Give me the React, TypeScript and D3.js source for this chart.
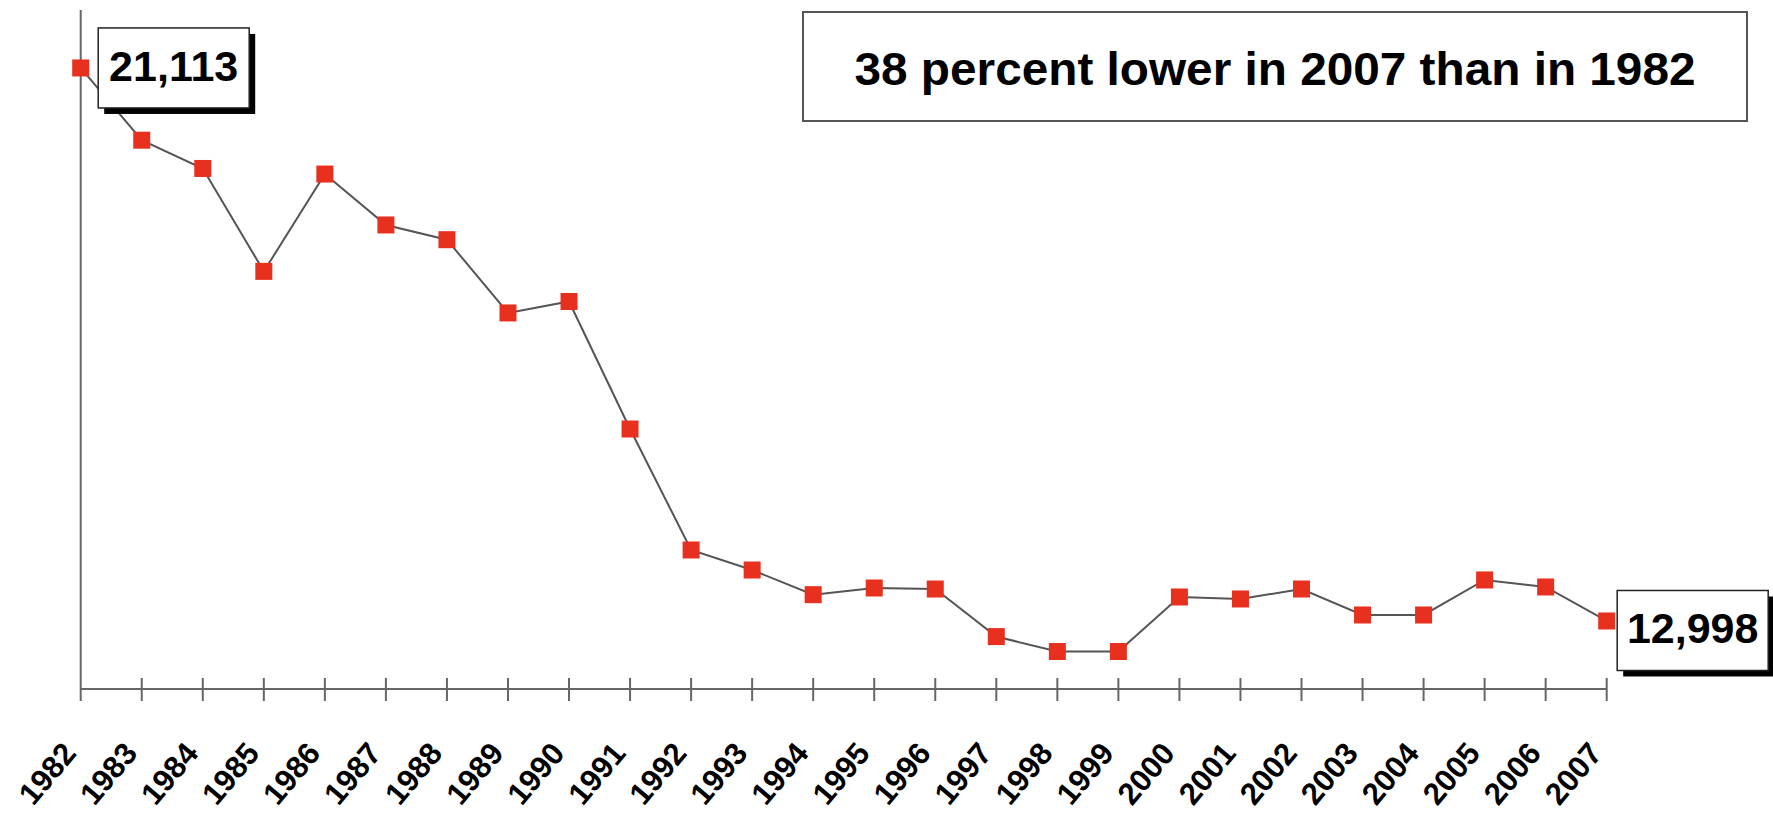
import React from "react";
import * as d3 from "d3";

const years = ["1982","1983","1984","1985","1986","1987","1988","1989","1990","1991","1992","1993","1994","1995","1996","1997","1998","1999","2000","2001","2002","2003","2004","2005","2006","2007"];
const values = [21113, 20053, 19638, 18128, 19556, 18809, 18593, 17518, 17686, 15815, 14040, 13746, 13384, 13482, 13467, 12769, 12550, 12550, 13350, 13321, 13467, 13086, 13086, 13600, 13497, 12998];
const yDomain = [12000, 22000];
const title = "38 percent lower in 2007 than in 1982";
const firstLabel = "21,113";
const lastLabel = "12,998";

const W = 1773;
const H = 817;
const FONT = "'Liberation Sans', Arial, Helvetica, sans-serif";

export default function App() {
  const x = d3.scalePoint<string>().domain(years).range([80.7, 1606.7]);
  const y = d3.scaleLinear().domain(yDomain).range([689, 7.5]);
  const pts: [number, number][] = years.map((yr, i) => [x(yr) as number, y(values[i])]);
  const line = d3.line<[number, number]>().x((d) => d[0]).y((d) => d[1]);
  const axisY = y(yDomain[0]);
  const x0 = x(years[0]) as number;
  const xN = x(years[years.length - 1]) as number;
  const ms = 17;

  const first = pts[0];
  const last = pts[pts.length - 1];
  const boxW = 151;
  const boxH = 80;
  const b1x = first[0] + 17.5;
  const b1y = first[1] - 40;
  const b2x = last[0] + 10.5;
  const b2y = last[1] - 30.5;

  const LabelBox = ({ bx, by, text }: { bx: number; by: number; text: string }) => (
    <g>
      <rect x={bx + 6} y={by + 6} width={boxW} height={boxH} fill="#000" />
      <rect x={bx} y={by} width={boxW} height={boxH} fill="#fff" stroke="#222" strokeWidth={1.5} />
      <text
        x={bx + boxW / 2}
        y={by + 53}
        textAnchor="middle"
        fontFamily={FONT}
        fontWeight="bold"
        fontSize={43}
        fill="#000"
      >
        {text}
      </text>
    </g>
  );

  return (
    <svg
      width={W}
      height={H}
      style={{ position: "absolute", left: 0, top: 0, background: "#fff" }}
    >
      <rect x={0} y={0} width={W} height={H} fill="#fff" />
      {/* y axis */}
      <line x1={x0} x2={x0} y1={10} y2={axisY} stroke="#666" strokeWidth={2} />
      {/* x axis */}
      <line x1={x0} x2={xN} y1={axisY} y2={axisY} stroke="#666" strokeWidth={2} />
      {years.map((yr) => (
        <line
          key={"t" + yr}
          x1={x(yr)}
          x2={x(yr)}
          y1={yr === years[0] ? axisY : axisY - 11}
          y2={axisY + 12}
          stroke="#666"
          strokeWidth={2}
        />
      ))}
      {years.map((yr) => (
        <text
          key={"l" + yr}
          transform={`translate(${(x(yr) as number) - 3},754) rotate(-50)`}
          textAnchor="end"
          fontFamily={FONT}
          fontWeight="bold"
          fontSize={31}
          fill="#000"
        >
          {yr}
        </text>
      ))}
      {/* line */}
      <path d={line(pts) || ""} fill="none" stroke="#555" strokeWidth={2} />
      {/* label boxes */}
      <LabelBox bx={b1x} by={b1y} text={firstLabel} />
      <LabelBox bx={b2x} by={b2y} text={lastLabel} />
      {/* markers */}
      {pts.map((p, i) => (
        <rect
          key={"m" + i}
          x={p[0] - ms / 2}
          y={p[1] - ms / 2}
          width={ms}
          height={ms}
          fill="#e8301f"
        />
      ))}
      {/* title box */}
      <rect x={803} y={12} width={944} height={109} fill="#fff" stroke="#555" strokeWidth={2} />
      <text
        x={1275}
        y={85}
        textAnchor="middle"
        fontFamily={FONT}
        fontWeight="bold"
        fontSize={47}
        textLength={841}
        lengthAdjust="spacingAndGlyphs"
        fill="#000"
      >
        {title}
      </text>
    </svg>
  );
}
